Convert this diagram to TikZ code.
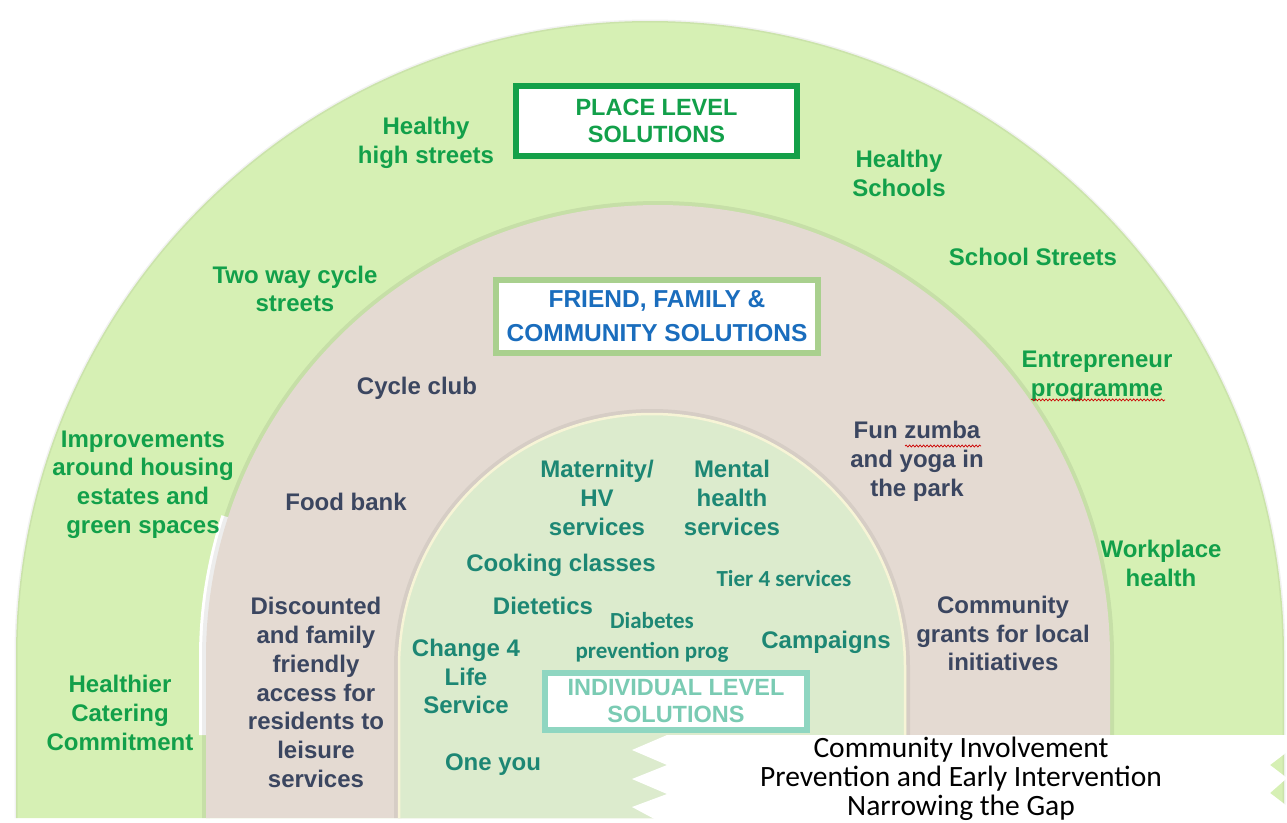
\documentclass[tikz,border=0pt]{standalone}
\usepackage{fontspec}
\setmainfont{Liberation Sans}
\newfontfamily\calib{Carlito}
\usetikzlibrary{decorations.pathmorphing}

\definecolor{ringplace}{HTML}{D6F0B4}
\definecolor{ringfriend}{HTML}{E4DAD2}
\definecolor{ringself}{HTML}{DCEBCD}
\definecolor{placegreen}{HTML}{12A04A}
\definecolor{friendslate}{HTML}{3B4660}
\definecolor{selfteal}{HTML}{1D8774}
\definecolor{friendblue}{HTML}{1A6DBD}
\definecolor{boxgreen}{HTML}{14A049}
\definecolor{boxsage}{HTML}{A9D08E}
\definecolor{boxmint}{HTML}{8FD6C1}
\definecolor{mintlabel}{HTML}{7ACBB3}
\definecolor{rimcream}{HTML}{F7F4D6}

\newcommand{\lab}{\fontsize{24}{28.8}\selectfont\bfseries}

\tikzset{
  outerlab/.style={text=placegreen, font=\lab, align=center, inner sep=0pt},
  midlab/.style={text=friendslate, font=\lab, align=center, inner sep=0pt},
  innerlab/.style={text=selfteal, font=\lab, align=center, inner sep=0pt},
  titlebox/.style={fill=white, line width=6pt, align=center, inner sep=0pt},
  squiggle/.style={draw=red!80!black, line width=0.7pt, decorate,
    decoration={snake, amplitude=1pt, segment length=3.5pt}},
}

\begin{document}
\begin{tikzpicture}[x=1pt, y=1pt]
  \def\bot{-818}
  \useasboundingbox (0,0) rectangle (1287,-822);

  % place level ring
  \fill[ringplace] (16,\bot) -- (16,-655) arc[start angle=180, end angle=0, radius=634] -- (1284,\bot) -- cycle;
  \draw[black, opacity=0.05, line width=3pt] (16,\bot) -- (16,-655) arc[start angle=180, end angle=0, radius=634] -- (1284,\bot);

  % friend, family and community ring
  \draw[white, line width=8pt] (658,-657) ++(162:455) arc[start angle=162, end angle=180, radius=455] -- (203,-735);
  \draw[black, opacity=0.07, line width=8pt] (206,\bot) -- (206,-657) arc[start angle=180, end angle=0, radius=452] -- (1110,\bot);
  \fill[ringfriend] (206,\bot) -- (206,-657) arc[start angle=180, end angle=0, radius=452] -- (1110,\bot) -- cycle;

  % individual level disc
  \draw[black, opacity=0.06, line width=8pt] (398,\bot) -- (398,-667) arc[start angle=180, end angle=0, radius=254] -- (906,\bot);
  \fill[ringself] (398,\bot) -- (398,-667) arc[start angle=180, end angle=0, radius=254] -- (906,\bot) -- cycle;
  \draw[rimcream, line width=2.5pt] (399,\bot) -- (399,-667) arc[start angle=180, end angle=0, radius=253] -- (905,\bot);

  % outer ring labels
  \node[outerlab] (highstreets) at (426,-142.5) {Healthy\\high streets};
  \node[outerlab] (schools) at (899,-173.5) {Healthy\\Schools};
  \node[outerlab] (schoolstreets) at (1033,-257) {School Streets};
  \node[outerlab] (entre) at (1097,-376.5) {Entrepreneur\\programme};
  \node[outerlab] (cyclestreets) at (295,-289) {Two way cycle\\streets};
  \node[outerlab] (housing) at (143,-484.5) {Improvements\\around housing\\estates and\\green spaces};
  \node[outerlab] (workplace) at (1161,-563.5) {Workplace\\health};
  \node[outerlab] (catering) at (120,-713) {Healthier\\Catering\\Commitment};

  % middle ring labels
  \node[midlab] (cycleclub) at (417,-388) {Cycle club};
  \node[midlab] (foodbank) at (346,-502) {Food bank};
  \node[midlab] (zumba) at (917,-461.5) {Fun zumba\\and yoga in\\the park};
  \node[midlab] (leisure) at (316,-692.5) {Discounted\\and family\\friendly\\access for\\residents to\\leisure\\services};
  \node[midlab] (grants) at (1003,-633.5) {Community\\grants for local\\initiatives};

  % inner disc labels
  \node[innerlab] (maternity) at (597,-498) {Maternity/\\HV\\services};
  \node[innerlab] (mental) at (732,-498) {Mental\\health\\services};
  \node[innerlab] (cooking) at (561,-565) {Cooking classes};
  \node[innerlab, font=\calib\fontsize{23}{30}\selectfont\bfseries] (tier) at (784,-579) {Tier 4 services};
  \node[innerlab] (dietetics) at (543,-606) {Dietetics};
  \node[innerlab, font=\calib\fontsize{23}{30}\selectfont\bfseries] (diabetes) at (652,-637) {Diabetes\\prevention prog};
  \node[innerlab] (campaigns) at (826,-642) {Campaigns};
  \node[innerlab] (changelife) at (466,-676.5) {Change 4\\Life\\Service};
  \node[innerlab] (oneyou) at (493,-765) {One you};

  % spelling marks
  \draw[squiggle] ([xshift=-66pt, yshift=2pt]entre.south) -- ([xshift=68pt, yshift=2pt]entre.south);
  \draw[squiggle] (905,-446) -- (981,-446);

  % level titles
  \node[titlebox, draw=boxgreen, text=placegreen, minimum width=281, minimum height=70,
    font=\fontsize{23.5}{27.5}\selectfont\bfseries] (placebox) at (656.5,-121) {PLACE LEVEL\\SOLUTIONS};
  \node[titlebox, draw=boxsage, text=friendblue, minimum width=322, minimum height=73,
    font=\fontsize{24.5}{34}\selectfont\bfseries] (friendbox) at (657,-316.5) {FRIEND, FAMILY \&\\COMMUNITY SOLUTIONS};
  \node[titlebox, draw=boxmint, text=mintlabel, minimum width=262, minimum height=57,
    font=\fontsize{23.5}{27}\selectfont\bfseries] (selfbox) at (676,-701.5) {INDIVIDUAL LEVEL\\SOLUTIONS};

  % banner
  \fill[white] (667,-735) -- (1287,-735) -- (1287,-752) -- (1270,-765) -- (1287,-778)
    -- (1270,-793) -- (1287,-806) -- (1287,-822) -- (660,-822) -- (632,-807) -- (667,-794)
    -- (632,-779) -- (667,-765) -- (632,-750) -- cycle;
  \node[font=\calib\fontsize{29.5}{29}\selectfont, align=center, inner sep=0pt] (motto) at (961,-779)
    {Community Involvement\\Prevention and Early Intervention\\Narrowing the Gap};
\end{tikzpicture}
\end{document}
